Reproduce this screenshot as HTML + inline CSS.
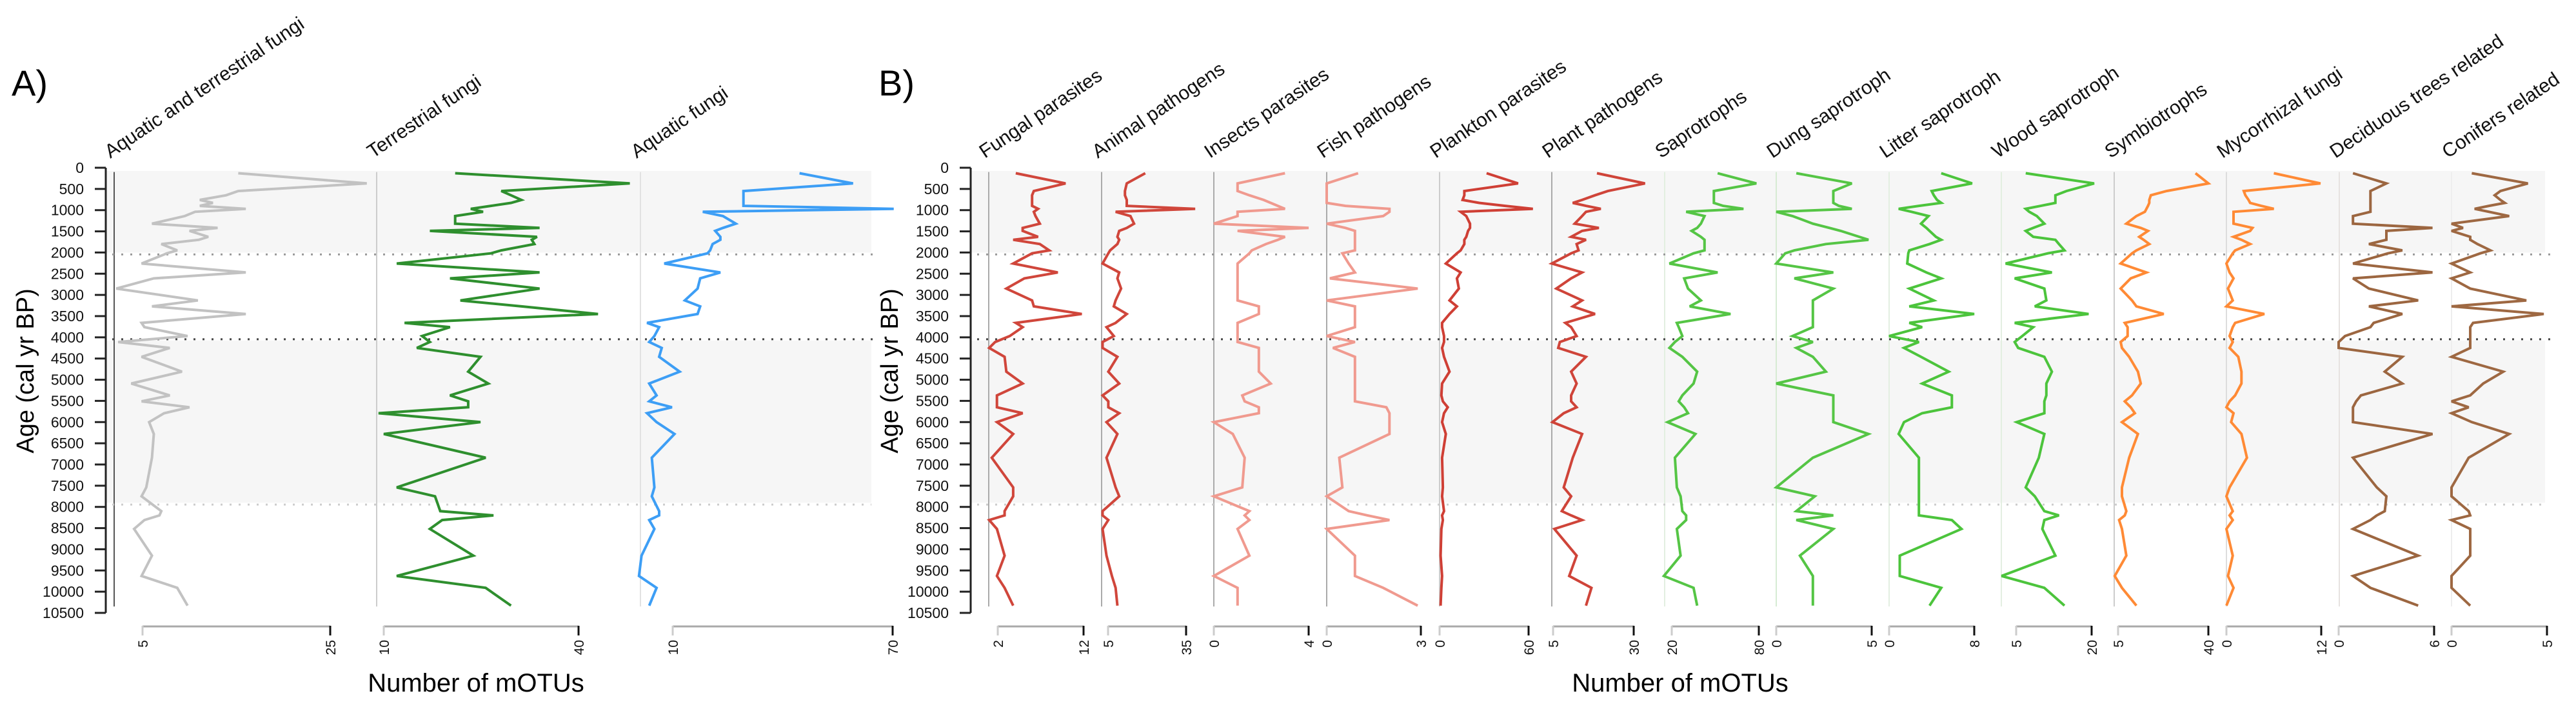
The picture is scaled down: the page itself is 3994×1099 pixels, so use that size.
<!DOCTYPE html>
<html><head><meta charset="utf-8">
<style>
html,body{margin:0;padding:0;background:#fff;}
svg{display:block;font-family:"Liberation Sans",Arial,sans-serif;}
</style></head>
<body>
<svg id="chart" width="3994" height="1099" viewBox="0 0 3994 1099" xmlns="http://www.w3.org/2000/svg">
<text x="18" y="148" font-size="56">A)</text>
<text x="1362" y="148" font-size="56">B)</text>
<text transform="translate(52,575) rotate(-90)" text-anchor="middle" font-size="38">Age (cal yr BP)</text>
<text transform="translate(1392,575) rotate(-90)" text-anchor="middle" font-size="38">Age (cal yr BP)</text>
<text x="738" y="1072" text-anchor="middle" font-size="40">Number of mOTUs</text>
<text x="2605" y="1072" text-anchor="middle" font-size="40">Number of mOTUs</text>
<g id="layer"></g>
</svg>
<script>
// Shared sample ages (cal yr BP)
const ages = [130,370,550,650,760,830,900,970,1040,1140,1320,1420,1490,1630,1700,1800,1950,2020,2260,2470,2610,2850,3130,3270,3450,3660,3760,3970,4110,4250,4460,4810,5090,5370,5510,5650,5790,6000,6280,6840,7540,7750,8100,8200,8310,8520,9150,9630,9910,10330];
const ageTicks = [0,500,1000,1500,2000,2500,3000,3500,4000,4500,5000,5500,6000,6500,7000,7500,8000,8500,9000,9500,10000,10500];
const zoneBounds = [2000,4000,7900];
// Panel A series
const aquaticTerrestrial = [15.2,28.9,15.2,13.9,11.1,12.5,11.1,16,10.6,9.5,6,13,10,12,11,7,8.7,7.6,4.9,16,6.2,2.2,10.9,6,16,4.9,5.2,9.8,2.4,7.9,4.9,9.2,3.8,7.9,4.9,10,7.3,5.7,6.2,6,5.4,4.9,7,6.8,5.2,4.1,6,4.9,8.7,9.8];
const terrestrial = [21.0,47.9,28.1,29.6,31.2,29.6,26.5,23.4,25.3,21.0,21.0,34.0,17.1,33.6,32.8,33.2,28.1,26.5,12.0,34.0,20.2,34.0,21.8,31.2,43.0,13.2,20.2,15.9,17.1,15.1,24.9,23.0,26.1,20.2,23.0,23.0,9.2,24.9,10.0,25.7,12.0,17.9,18.7,26.9,19.0,17.1,23.8,12.0,25.7,29.6];
const aquatic = [44.6,59.2,29.3,29.3,29.3,29.3,29.3,70.3,18.2,23.7,27.2,23.7,21.6,23.0,23.0,20.9,20.2,19.5,7.7,23.0,17.5,16.8,13.3,17.5,16.8,3.0,6.3,5.0,3.6,7.0,6.3,11.9,3.6,5.6,3.6,9.8,3.0,5.6,10.5,4.3,5.0,4.3,6.3,6.3,3.6,5.0,1.5,0.8,5.6,3.6];
// Panel B series
const fungalParasites = [4.1,9.9,6.2,6.0,6.0,6.0,6.0,6.7,6.2,6.4,6.9,4.9,4.9,6.7,3.8,6.9,8.0,6.0,3.8,9.0,5.1,3.0,6.0,6.2,11.8,4.1,4.9,3.4,1.7,1.0,2.8,3.0,4.9,1.9,1.9,1.9,4.9,1.9,3.8,1.3,3.8,3.8,2.8,2.8,1.0,1.9,2.8,1.9,2.8,3.8];
const animalPathogens = [19.3,12.2,11.5,11.5,12.2,12.2,12.2,38.5,7.9,13.6,15.0,12.2,9.3,8.6,9.3,8.6,5.8,5.1,2.9,9.3,8.6,10.0,7.9,7.2,12.2,7.9,4.4,7.2,2.9,2.9,8.6,5.1,9.3,2.9,5.1,5.1,9.3,4.4,8.6,4.4,7.9,9.3,2.9,2.9,5.1,2.9,4.4,6.5,7.9,8.6];
const insectsParasites = [3.0,1.0,1.0,1.5,2.1,2.4,2.7,3.0,1.0,1.0,0,4.0,1.0,3.0,2.7,2.2,1.6,1.5,1.0,1.0,1.0,1.0,1.0,1.9,1.9,1.0,1.0,1.0,1.0,1.9,1.9,1.9,2.4,1.2,1.3,1.9,1.9,0,0.8,1.3,1.2,0,1.5,1.3,1.5,1.0,1.5,0,1.0,1.0];
const fishPathogens = [1.0,0,0,0,0,0,0.6,2.0,2.0,1.8,0,0.6,0.9,0.9,0.9,0.9,0.9,0.5,0.7,0.9,0.1,2.9,0,0.9,0.9,0.9,0.9,0,0.9,0.2,0.9,0.9,0.9,0.9,0.9,1.9,2.0,2.0,2.0,0.4,0.5,0,0.7,1.3,2.0,0,0.9,0.9,1.8,2.9];
const planktonParasites = [31.7,52.9,16.7,16.7,15.5,26.7,44.2,62.9,14.2,18.0,20.5,20.5,19.2,18.0,16.7,16.7,14.2,11.7,4.2,14.2,11.7,13.0,6.7,11.7,6.7,1.7,1.7,3.0,3.0,1.7,3.0,6.7,1.7,1.2,2.2,5.5,3.0,1.7,4.2,1.7,2.2,1.7,3.0,1.7,2.2,1.2,0.7,1.7,1.2,0.7];
const plantPathogens = [18.6,33.5,22.0,18.0,14.0,11.1,15.2,19.8,15.2,14.0,11.7,19.2,14.0,10.6,15.2,12.3,12.9,10.6,4.6,14.0,10.6,6.0,14.0,11.1,18.0,8.8,10.6,12.3,7.1,6.6,15.2,10.6,12.3,10.6,10.6,12.3,8.3,4.8,14.0,11.1,8.3,10.6,7.7,10.6,14.0,5.4,12.3,10.0,16.9,15.2];
const saprotrophs = [51.6,78.3,49.0,49.0,49.0,49.0,55.4,69.4,29.9,42.6,40.1,37.5,33.7,40.1,42.6,42.6,42.6,35.0,18.4,51.6,28.6,31.2,40.1,32.4,60.5,23.5,24.8,27.3,22.2,18.4,27.3,37.5,35.0,27.3,24.8,28.6,31.2,17.1,36.3,22.2,23.5,26.1,27.3,29.9,29.9,23.5,26.1,14.6,35.0,37.5];
const dungSaprotroph = [1.05,3.96,2.99,2.99,2.99,2.99,3.28,3.96,0,0.85,1.92,2.79,3.38,4.35,4.83,2.6,0.95,0.47,0,2.99,0.95,2.99,1.92,1.92,1.92,1.92,1.92,0.85,1.92,1.05,1.92,2.6,0,2.99,2.99,2.99,2.99,2.99,4.83,1.92,0,2.02,1.05,2.99,1.05,2.99,1.24,1.92,1.92,1.92];
const litterSaprotroph = [4.9,7.8,4.0,4.2,4.5,4.9,2.8,0.9,2.1,3.7,3.0,3.5,3.8,4.4,4.9,3.8,1.9,1.8,1.7,3.5,4.9,1.9,4.2,1.9,8.0,1.9,3.1,0,2.8,1.4,3.0,5.6,3.1,5.9,5.9,5.9,3.1,1.4,0.9,2.8,2.8,2.8,2.8,2.8,5.9,6.8,1.0,1.0,4.9,3.8];
const woodSaprotroph = [6.9,20.5,15.0,12.8,12.8,12.8,9.9,6.9,7.6,9.1,10.6,8.4,6.9,8.4,12.8,13.5,14.6,11.3,2.9,12.1,4.7,10.6,11.0,8.7,19.4,4.7,8.4,6.2,4.7,5.4,10.6,12.1,11.0,11.0,10.6,10.6,10.6,5.1,10.6,9.5,6.9,8.7,10.6,13.5,10.6,10.2,12.8,2.1,10.6,14.6];
const symbiotrophs = [35.0,40.0,23.8,17.7,17.1,17.1,16.6,16.0,15.4,12.1,8.2,13.8,16.6,13.2,14.9,17.1,12.1,10.4,6.0,16.0,9.9,6.0,10.4,12.1,22.7,7.6,8.7,8.7,6.0,6.5,9.3,12.7,13.8,10.4,7.6,9.9,11.5,6.5,12.7,9.3,6.5,6.5,8.2,7.6,5.4,6.5,8.2,3.7,6.5,12.1];
const mycorrhizal = [6.0,11.9,2.2,2.4,2.8,3.0,4.4,6.0,0.9,0.9,0.9,3.3,3.0,0.9,1.9,3.0,1.1,0.8,0.0,0.4,0.9,0.2,0.8,0.0,4.8,1.1,0.8,0.4,0.8,0.4,1.5,1.9,1.9,1.1,0.4,0.0,0.9,0.6,1.9,2.6,0.4,0.0,0.8,0.4,0.8,0.0,0.8,0.2,0.9,0.0];
const deciduous = [0.9,3.0,2.0,2.0,2.0,2.0,2.0,2.0,2.0,0.9,0.9,5.9,3.0,3.0,3.0,1.9,4.0,3.1,0.9,5.9,0.9,1.9,5.0,1.9,4.0,2.2,2.0,0.4,0,0,4.0,2.9,4.0,1.4,1.1,0.9,0.9,0.9,5.9,0.9,2.4,3.0,2.9,2.4,2.0,0.9,5.0,0.9,2.0,5.0];
const conifers = [1.06,4.0,2.56,2.26,2.56,2.79,1.96,1.21,1.96,3.02,0,0.6,0,0.98,0.98,1.36,2.04,1.51,0,0.98,0,0.98,3.92,0,4.83,1.13,0.98,0.98,0.98,0.98,0,2.71,1.66,0.98,0,0.9,0,1.06,3.02,0.9,0,0,0.9,0.98,0,0.98,0.98,0,0,0.98];

// Layout (not data)
const Y0 = 260, Y1 = 950;
function yAge(a){ return Y0 + (a/10500)*(Y1-Y0); }
const NS = "http://www.w3.org/2000/svg";
const layer = document.getElementById('layer');
function mk(tag, attrs, parent){
  const e = document.createElementNS(NS, tag);
  for (const k in attrs) e.setAttribute(k, attrs[k]);
  (parent||layer).appendChild(e);
  return e;
}
const panels = [
  {axisX:164, right:1351, name:'a', cols:[
    {title:'Aquatic and terrestrial fungi', line:177, t0:5, t1:25, p0:221, p1:512, data:aquaticTerrestrial, color:'#c2c2c2', lc:'#555'},
    {title:'Terrestrial fungi', line:584, t0:10, t1:40, p0:595, p1:897, data:terrestrial, color:'#2e8f2e', lc:'#ccc'},
    {title:'Aquatic fungi', line:993, t0:10, t1:70, p0:1043, p1:1384, data:aquatic, color:'#3d9ef5', lc:'#e2e2e2'}]},
  {axisX:1505, right:3946, name:'b', cols:[
    {title:'Fungal parasites', line:1533, t0:2, t1:12, p0:1547, p1:1680, data:fungalParasites, color:'#d0463b', lc:'#aaa'},
    {title:'Animal pathogens', line:1708, t0:5, t1:35, p0:1718, p1:1839, data:animalPathogens, color:'#d0463b', lc:'#aaa'},
    {title:'Insects parasites', line:1882, t0:0, t1:4, p0:1882, p1:2029, data:insectsParasites, color:'#f09a8f', lc:'#aaa'},
    {title:'Fish pathogens', line:2057, t0:0, t1:3, p0:2057, p1:2203, data:fishPathogens, color:'#f09a8f', lc:'#aaa'},
    {title:'Plankton parasites', line:2232, t0:0, t1:60, p0:2232, p1:2370, data:planktonParasites, color:'#cf3f35', lc:'#ccc'},
    {title:'Plant pathogens', line:2406, t0:5, t1:30, p0:2408, p1:2533, data:plantPathogens, color:'#cf4439', lc:'#aaa'},
    {title:'Saprotrophs', line:2581, t0:20, t1:80, p0:2592, p1:2727, data:saprotrophs, color:'#55c545', lc:'#e3efe1'},
    {title:'Dung saprotroph', line:2754, t0:0, t1:5, p0:2754, p1:2902, data:dungSaprotroph, color:'#55c545', lc:'#d6ebd3'},
    {title:'Litter saprotroph', line:2929, t0:0, t1:8, p0:2929, p1:3061, data:litterSaprotroph, color:'#4cc43c', lc:'#e3efe1'},
    {title:'Wood saprotroph', line:3103, t0:5, t1:20, p0:3126, p1:3243, data:woodSaprotroph, color:'#4cc43c', lc:'#e3efe1'},
    {title:'Symbiotrophs', line:3278, t0:5, t1:40, p0:3284, p1:3424, data:symbiotrophs, color:'#ff8a35', lc:'#ccc'},
    {title:'Mycorrhizal fungi', line:3452, t0:0, t1:12, p0:3452, p1:3599, data:mycorrhizal, color:'#ff8a35', lc:'#ddd'},
    {title:'Deciduous trees related', line:3627, t0:0, t1:6, p0:3626, p1:3774, data:deciduous, color:'#9c6640', lc:'#e6e2e0'},
    {title:'Conifers related', line:3801, t0:0, t1:5, p0:3801, p1:3949, data:conifers, color:'#9e6842', lc:'#eee'}]}
];

panels.forEach(function(P){
  const g = mk('g', {});
  
  
  [[0, zoneBounds[0]], [zoneBounds[1], zoneBounds[2]]].forEach(function(z){
    const r = mk('rect', {x:P.axisX, y:yAge(z[0])+5, width:P.right-P.axisX, height:yAge(z[1])-yAge(z[0])-5, fill:'#f6f6f6'}, g);
    
    
  });
  P.cols.forEach(function(c){
    const l = mk('line', {x1:c.line, x2:c.line, y1:yAge(100), y2:yAge(10350), stroke:c.lc, 'stroke-width':2}, g);
    
    
  });
  zoneBounds.forEach(function(b, i){
    const l = mk('line', {x1:P.axisX+10, x2:P.right+ (i==2?0:10), y1:yAge(b)+3, y2:yAge(b)+3,
      stroke: i==1 ? '#444' : (i==0 ? '#999' : '#ccc'), 'stroke-width':3, 'stroke-dasharray':'3 11'}, g);
    
    
  });
  const ax = mk('line', {x1:P.axisX, x2:P.axisX, y1:Y0, y2:Y1, stroke:'#222', 'stroke-width':3}, g);
  
  
  ageTicks.forEach(function(t){
    const tk = mk('line', {x1:P.axisX-17, x2:P.axisX, y1:yAge(t), y2:yAge(t), stroke:'#222', 'stroke-width':3}, g);
    
    
    const tx = mk('text', {x:P.axisX-34, y:yAge(t)+8, 'text-anchor':'end', 'font-size':23, fill:'#111'}, g);
    tx.textContent = t;
    
    
  });
  P.cols.forEach(function(c){
    const xs = function(v){ return c.p0 + (v - c.t0) * (c.p1 - c.p0) / (c.t1 - c.t0); };
    const pts = c.data.map(function(v, i){ return xs(v).toFixed(1) + ',' + yAge(ages[i]).toFixed(1); }).join(' ');
    const pl = mk('polyline', {points:pts, fill:'none', stroke:c.color, 'stroke-width':4, 'stroke-linejoin':'miter', 'stroke-miterlimit':3}, g);
    
    
    const h = mk('text', {transform:'translate(' + (c.line - 6) + ',246) rotate(-34)', 'font-size':30, fill:'#111'}, g);
    h.textContent = c.title;
    
    
    const bl = mk('line', {x1:c.p0, x2:c.p1, y1:971, y2:971, stroke:'#aaa', 'stroke-width':3}, g);
    
    
    [[c.t0, c.p0, '#ccc'], [c.t1, c.p1, '#111']].forEach(function(t){
      const tk = mk('line', {x1:t[1], x2:t[1], y1:970, y2:985, stroke:t[2], 'stroke-width':3}, g);
      
      
      const tl = mk('text', {transform:'translate(' + (t[1] + 8) + ',992) rotate(-90)', 'text-anchor':'end', 'font-size':21, fill:'#111'}, g);
      tl.textContent = t[0];
      
      
    });
  });
});
</script>
</body></html>
